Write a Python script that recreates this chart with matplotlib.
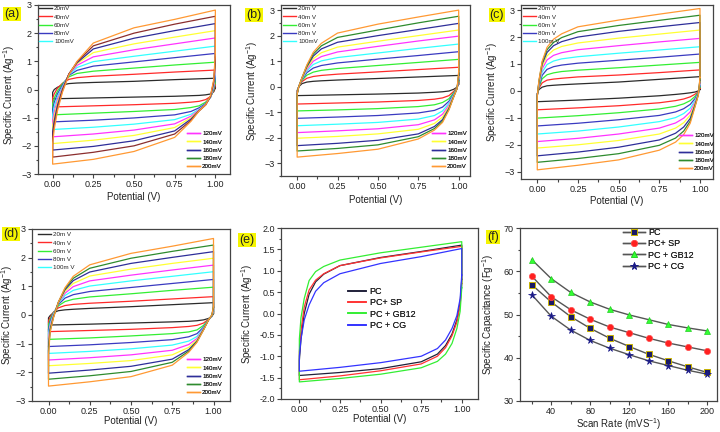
import matplotlib
matplotlib.use('Agg')
import matplotlib.pyplot as plt
from matplotlib.ticker import MultipleLocator
from matplotlib.lines import Line2D

plt.rcParams['font.family'] = ['Liberation Sans', 'DejaVu Sans']
plt.rcParams['mathtext.default'] = 'regular'

x_up = [0.0, 0.01, 0.03, 0.06, 0.1, 0.15, 0.25, 0.5, 0.75, 1.0]
x_lo = [1.0, 0.99, 0.97, 0.94, 0.9, 0.85, 0.75, 0.5, 0.25, 0.0]

rate_labels_a_top = ['20mV', '40mV', '60mV', '80mV', '100mV']
rate_labels_b_top = ['20m V', '40m V', '60m V', '80m V', '100mV']
rate_labels_cd_top = ['20m V', '40m V', '60m V', '80m V', '100m V']
rate_labels_bottom = ['120mV', '140mV', '160mV', '180mV', '200mV']

# (a) anodic / cathodic branches, 20 ... 200 mV/s
up_a = [[-0.10, 0.00, 0.08, 0.16, 0.21, 0.23, 0.25, 0.29, 0.35, 0.40],
        [-0.30, -0.15, 0.05, 0.22, 0.36, 0.42, 0.47, 0.54, 0.62, 0.69],
        [-0.50, -0.30, -0.05, 0.20, 0.45, 0.57, 0.65, 0.76, 0.87, 0.97],
        [-0.70, -0.45, -0.15, 0.15, 0.50, 0.68, 0.83, 0.98, 1.13, 1.28],
        [-0.90, -0.60, -0.25, 0.10, 0.52, 0.78, 0.99, 1.18, 1.36, 1.54],
        [-1.10, -0.80, -0.35, 0.05, 0.54, 0.86, 1.16, 1.41, 1.62, 1.83],
        [-1.30, -0.95, -0.45, 0.02, 0.55, 0.92, 1.31, 1.62, 1.86, 2.09],
        [-1.50, -1.10, -0.55, 0.00, 0.55, 0.95, 1.44, 1.82, 2.09, 2.34],
        [-1.70, -1.25, -0.65, -0.05, 0.55, 0.98, 1.55, 2.00, 2.32, 2.60],
        [-1.90, -1.40, -0.75, -0.10, 0.52, 1.00, 1.65, 2.19, 2.49, 2.82]]
lo_a = [[0.05, -0.08, -0.16, -0.19, -0.21, -0.22, -0.24, -0.27, -0.30, -0.33],
        [0.15, -0.05, -0.25, -0.36, -0.42, -0.45, -0.49, -0.54, -0.58, -0.62],
        [0.25, 0.00, -0.28, -0.45, -0.58, -0.64, -0.71, -0.78, -0.84, -0.90],
        [0.40, 0.05, -0.28, -0.50, -0.65, -0.78, -0.90, -1.01, -1.09, -1.15],
        [0.55, 0.10, -0.28, -0.52, -0.70, -0.88, -1.07, -1.23, -1.34, -1.42],
        [0.70, 0.15, -0.27, -0.53, -0.72, -0.95, -1.22, -1.44, -1.58, -1.68],
        [0.85, 0.20, -0.26, -0.54, -0.74, -1.00, -1.35, -1.63, -1.80, -1.92],
        [1.00, 0.25, -0.25, -0.54, -0.75, -1.05, -1.47, -1.82, -2.02, -2.15],
        [1.15, 0.30, -0.24, -0.55, -0.76, -1.10, -1.58, -2.00, -2.23, -2.40],
        [1.30, 0.35, -0.22, -0.55, -0.76, -1.13, -1.70, -2.20, -2.48, -2.65]]

# (b)
up_b = [[-0.15, 0.00, 0.12, 0.18, 0.21, 0.23, 0.26, 0.32, 0.38, 0.44],
        [-0.20, 0.00, 0.20, 0.33, 0.40, 0.44, 0.49, 0.58, 0.67, 0.76],
        [-0.25, 0.00, 0.25, 0.45, 0.57, 0.64, 0.71, 0.83, 0.95, 1.07],
        [-0.25, 0.00, 0.28, 0.55, 0.73, 0.83, 0.93, 1.08, 1.22, 1.37],
        [-0.25, 0.00, 0.30, 0.62, 0.87, 1.01, 1.14, 1.32, 1.50, 1.67],
        [-0.25, 0.00, 0.32, 0.68, 1.00, 1.18, 1.36, 1.58, 1.79, 1.98],
        [-0.25, 0.00, 0.33, 0.73, 1.10, 1.33, 1.55, 1.78, 2.00, 2.22],
        [-0.28, 0.00, 0.34, 0.78, 1.20, 1.48, 1.74, 2.00, 2.24, 2.48],
        [-0.30, 0.00, 0.35, 0.82, 1.28, 1.60, 1.93, 2.22, 2.50, 2.76],
        [-0.30, 0.00, 0.35, 0.85, 1.35, 1.70, 2.10, 2.45, 2.73, 3.00]]
lo_b = [[0.10, -0.02, -0.10, -0.17, -0.20, -0.22, -0.25, -0.29, -0.32, -0.35],
        [0.15, -0.03, -0.18, -0.35, -0.44, -0.49, -0.54, -0.60, -0.64, -0.68],
        [0.20, -0.04, -0.23, -0.47, -0.62, -0.71, -0.78, -0.86, -0.91, -0.95],
        [0.25, -0.05, -0.27, -0.57, -0.80, -0.93, -1.03, -1.13, -1.19, -1.24],
        [0.30, -0.05, -0.30, -0.65, -0.95, -1.13, -1.27, -1.40, -1.47, -1.53],
        [0.35, -0.06, -0.33, -0.72, -1.08, -1.30, -1.49, -1.65, -1.73, -1.80],
        [0.40, -0.06, -0.35, -0.78, -1.19, -1.44, -1.67, -1.85, -1.95, -2.02],
        [0.45, -0.07, -0.37, -0.84, -1.29, -1.56, -1.85, -2.10, -2.22, -2.31],
        [0.50, -0.07, -0.38, -0.88, -1.35, -1.64, -1.96, -2.28, -2.42, -2.52],
        [0.60, -0.07, -0.39, -0.91, -1.40, -1.70, -2.05, -2.45, -2.62, -2.76]]

# (c)
up_c = [[-0.10, 0.05, 0.14, 0.19, 0.21, 0.23, 0.26, 0.33, 0.43, 0.53],
        [-0.12, 0.10, 0.30, 0.40, 0.44, 0.47, 0.52, 0.59, 0.68, 0.78],
        [-0.14, 0.15, 0.45, 0.60, 0.67, 0.72, 0.77, 0.86, 0.96, 1.06],
        [-0.15, 0.18, 0.58, 0.80, 0.90, 0.96, 1.03, 1.14, 1.25, 1.37],
        [-0.16, 0.22, 0.70, 0.98, 1.11, 1.19, 1.27, 1.40, 1.52, 1.64],
        [-0.17, 0.25, 0.82, 1.15, 1.32, 1.42, 1.53, 1.68, 1.82, 1.95],
        [-0.18, 0.28, 0.92, 1.30, 1.52, 1.65, 1.78, 1.96, 2.11, 2.26],
        [-0.19, 0.32, 1.00, 1.43, 1.68, 1.83, 2.00, 2.21, 2.38, 2.54],
        [-0.20, 0.35, 1.06, 1.53, 1.80, 1.98, 2.20, 2.43, 2.62, 2.81],
        [-0.20, 0.38, 1.10, 1.62, 1.92, 2.12, 2.38, 2.63, 2.85, 3.06]]
lo_c = [[0.05, 0.00, -0.04, -0.07, -0.10, -0.13, -0.18, -0.27, -0.34, -0.40],
        [0.10, -0.03, -0.12, -0.22, -0.30, -0.36, -0.44, -0.55, -0.63, -0.70],
        [0.15, -0.05, -0.20, -0.36, -0.48, -0.57, -0.67, -0.81, -0.92, -1.01],
        [0.20, -0.07, -0.28, -0.50, -0.66, -0.78, -0.91, -1.07, -1.20, -1.30],
        [0.25, -0.08, -0.35, -0.64, -0.84, -0.99, -1.14, -1.34, -1.49, -1.60],
        [0.30, -0.10, -0.41, -0.78, -1.01, -1.19, -1.38, -1.60, -1.76, -1.88],
        [0.35, -0.11, -0.46, -0.90, -1.18, -1.38, -1.60, -1.84, -2.00, -2.12],
        [0.40, -0.12, -0.51, -1.02, -1.34, -1.57, -1.82, -2.09, -2.27, -2.41],
        [0.45, -0.14, -0.55, -1.12, -1.49, -1.75, -2.02, -2.33, -2.51, -2.65],
        [0.50, -0.15, -0.58, -1.20, -1.62, -1.90, -2.20, -2.56, -2.76, -2.93]]

# (d)
up_d = [[-0.10, -0.02, 0.08, 0.15, 0.18, 0.20, 0.23, 0.29, 0.36, 0.43],
        [-0.20, -0.08, 0.10, 0.25, 0.33, 0.37, 0.41, 0.48, 0.56, 0.64],
        [-0.35, -0.15, 0.08, 0.32, 0.47, 0.55, 0.63, 0.74, 0.86, 0.97],
        [-0.50, -0.22, 0.05, 0.37, 0.59, 0.71, 0.82, 0.96, 1.10, 1.24],
        [-0.65, -0.30, 0.03, 0.40, 0.68, 0.86, 1.01, 1.19, 1.35, 1.51],
        [-0.80, -0.37, 0.00, 0.42, 0.76, 0.99, 1.19, 1.39, 1.57, 1.74],
        [-0.95, -0.44, -0.03, 0.43, 0.83, 1.10, 1.36, 1.60, 1.80, 1.98],
        [-1.10, -0.50, -0.06, 0.44, 0.88, 1.20, 1.50, 1.80, 2.01, 2.21],
        [-1.25, -0.55, -0.08, 0.45, 0.92, 1.28, 1.63, 1.98, 2.22, 2.44],
        [-1.40, -0.60, -0.10, 0.45, 0.95, 1.35, 1.75, 2.15, 2.40, 2.67]]
lo_d = [[0.05, -0.05, -0.12, -0.17, -0.20, -0.22, -0.24, -0.28, -0.32, -0.35],
        [0.08, -0.05, -0.15, -0.28, -0.36, -0.40, -0.44, -0.50, -0.54, -0.58],
        [0.10, -0.05, -0.16, -0.36, -0.52, -0.59, -0.65, -0.73, -0.80, -0.85],
        [0.13, -0.04, -0.17, -0.42, -0.65, -0.76, -0.86, -0.96, -1.04, -1.10],
        [0.16, -0.04, -0.17, -0.45, -0.75, -0.91, -1.05, -1.18, -1.27, -1.34],
        [0.19, -0.03, -0.17, -0.47, -0.82, -1.03, -1.23, -1.39, -1.49, -1.57],
        [0.22, -0.02, -0.17, -0.49, -0.87, -1.13, -1.39, -1.59, -1.69, -1.77],
        [0.25, -0.01, -0.17, -0.50, -0.91, -1.21, -1.54, -1.79, -1.92, -2.03],
        [0.28, 0.00, -0.17, -0.51, -0.93, -1.26, -1.65, -1.97, -2.12, -2.24],
        [0.30, 0.00, -0.17, -0.52, -0.95, -1.30, -1.75, -2.15, -2.33, -2.48]]

# (e) comparison at one scan rate
samples_e = ['PC', 'PC+ SP', 'PC + GB12', 'PC + CG']
up_e = [[-1.10, -0.60, 0.00, 0.45, 0.74, 0.92, 1.12, 1.31, 1.45, 1.60],
        [-0.90, -0.40, 0.15, 0.55, 0.78, 0.93, 1.12, 1.30, 1.44, 1.57],
        [-0.60, -0.10, 0.35, 0.77, 0.98, 1.10, 1.25, 1.42, 1.55, 1.68],
        [-1.00, -0.60, -0.15, 0.20, 0.52, 0.72, 0.93, 1.17, 1.33, 1.52]]
lo_e = [[0.80, 0.25, -0.15, -0.48, -0.75, -0.95, -1.13, -1.29, -1.38, -1.45],
        [0.70, 0.20, -0.20, -0.52, -0.80, -1.00, -1.18, -1.34, -1.46, -1.55],
        [0.60, 0.05, -0.35, -0.70, -0.95, -1.12, -1.27, -1.42, -1.52, -1.60],
        [0.90, 0.35, -0.05, -0.35, -0.62, -0.82, -1.00, -1.15, -1.26, -1.35]]

# (f) specific capacitance vs scan rate
scan_rate = [20, 40, 60, 80, 100, 120, 140, 160, 180, 200]
cap_pc = [56.9, 52.9, 49.5, 46.8, 44.5, 42.6, 40.8, 39.3, 37.9, 36.6]
cap_sp = [58.9, 54.1, 51.1, 48.9, 47.1, 45.8, 44.5, 43.4, 42.5, 41.6]
cap_gb = [62.7, 58.3, 55.1, 52.9, 51.2, 49.9, 48.8, 47.7, 46.9, 46.2]
cap_cg = [54.6, 49.6, 46.4, 44.0, 42.2, 40.7, 39.3, 38.2, 37.1, 36.2]

rate_colors = ['#2b2b2b', '#ff2a2a', '#33ee33', '#3a3ac0', '#33ffff',
               '#ff33ff', '#ffff33', '#2e2e99', '#2e8b2e', '#ff9933']
rate_colors_a = rate_colors[:8] + ['#8b2e2e', '#ff9933']
sample_colors = ['#20203a', '#ff3333', '#33ee33', '#3333ff']

TXT = '#222222'
W, H = 720, 432
fig = plt.figure(figsize=(7.2, 4.32), dpi=100)


def px_axes(l, r, t, b):
    return fig.add_axes([l / W, 1 - b / H, (r - l) / W, (b - t) / H])


def style(ax, ylab, xlab, xlc, ylc):
    for sp in ax.spines.values():
        sp.set_color('#444444')
        sp.set_linewidth(0.9)
    ax.tick_params(which='both', direction='out', top=False, right=False,
                   colors='#444444', labelcolor=TXT, labelsize=6.5, width=0.8, pad=1.5)
    ax.tick_params(which='major', length=3)
    ax.tick_params(which='minor', length=1.8)
    ax.set_ylabel(ylab, fontsize=7, color=TXT)
    ax.set_xlabel(xlab, fontsize=7, color=TXT)
    ax.yaxis.set_label_coords(*ylc)
    ax.xaxis.set_label_coords(*xlc)


def panel_tag(text, cx, cy):
    fig.text(cx / W, 1 - cy / H, text, fontsize=9, color=TXT, ha='center', va='center',
             bbox=dict(boxstyle='square,pad=0.08', fc='#f5f500', ec='none'))


def px_legend(ax, handles, labels, x, y0, fs, hl, ls):
    leg = ax.legend(handles, labels, loc='upper left', bbox_to_anchor=(x / W, 1 - y0 / H),
                    bbox_transform=fig.transFigure, frameon=False, fontsize=fs,
                    handlelength=hl, handletextpad=0.4, labelspacing=ls,
                    borderpad=0, borderaxespad=0)
    for t in leg.get_texts():
        t.set_color(TXT)
    ax.add_artist(leg)


def cv_loop(ax, up, lo, color):
    xs = x_lo + x_up + [x_lo[0]]
    ys = lo + up + [lo[0]]
    ax.plot(xs, ys, color=color, lw=0.9)


def cv_panel(box, up, lo, colors, ylim, xlim, top_labels, leg_top, leg_bot, ylc, xlc):
    ax = px_axes(*box)
    for u, l, c in zip(up, lo, colors):
        cv_loop(ax, u, l, c)
    ax.set_xlim(*xlim)
    ax.set_ylim(*ylim)
    ax.set_xticks([0, 0.25, 0.5, 0.75, 1.0])
    ax.set_xticklabels(['0.00', '0.25', '0.50', '0.75', '1.00'])
    ax.set_yticks([-3, -2, -1, 0, 1, 2, 3])
    ax.xaxis.set_minor_locator(MultipleLocator(0.125))
    ax.yaxis.set_minor_locator(MultipleLocator(0.5))
    style(ax, 'Specific Current (Ag$^{-1}$)', 'Potential (V)', xlc, ylc)
    hs = [Line2D([], [], color=c, lw=1) for c in rate_colors]
    px_legend(ax, hs[:5], top_labels, leg_top[0], leg_top[1], 4.5, 2.0, 0.45)
    px_legend(ax, hs[5:], rate_labels_bottom, leg_bot[0], leg_bot[1], 4.5, 2.0, 0.45)
    return ax


cv_panel((38, 230, 5, 174), up_a, lo_a, rate_colors_a, (-3, 3), (-0.09, 1.09),
         rate_labels_a_top, (39, 6), (187, 131), (-0.11, 0.47), (0.5, -0.105))
cv_panel((281, 470, 5, 176), up_b, lo_b, rate_colors, (-3.5, 3.2), (-0.1, 1.07),
         rate_labels_b_top, (283, 6), (432, 131), (-0.11, 0.5), (0.5, -0.11))
cv_panel((521, 713, 5, 179), up_c, lo_c, rate_colors, (-3.27, 3.19), (-0.1, 1.08),
         rate_labels_cd_top, (523, 6), (679, 133), (-0.11, 0.5), (0.5, -0.1))
cv_panel((32, 230, 229, 401), up_d, lo_d, rate_colors, (-3, 3), (-0.1, 1.1),
         rate_labels_cd_top, (38, 232), (187, 357), (-0.085, 0.5), (0.5, -0.09))

# (e)
ax_e = px_axes(281, 478, 228, 399)
for u, l, c in zip(up_e, lo_e, sample_colors):
    cv_loop(ax_e, u, l, c)
ax_e.set_xlim(-0.113, 1.1)
ax_e.set_ylim(-2, 2)
ax_e.set_xticks([0, 0.25, 0.5, 0.75, 1.0])
ax_e.set_xticklabels(['0.00', '0.25', '0.50', '0.75', '1.00'])
ax_e.set_yticks([-2, -1.5, -1, -0.5, 0, 0.5, 1, 1.5, 2])
ax_e.set_yticklabels(['-2.0', '-1.5', '-1.0', '-0.5', '0.0', '0.5', '1.0', '1.5', '2.0'])
ax_e.xaxis.set_minor_locator(MultipleLocator(0.125))
ax_e.yaxis.set_minor_locator(MultipleLocator(0.25))
style(ax_e, 'Specific Current (Ag$^{-1}$)', 'Potential (V)', (0.5, -0.085), (-0.13, 0.5))
hs_e = [Line2D([], [], color=c, lw=1.2) for c in sample_colors]
px_legend(ax_e, hs_e, samples_e, 348, 287, 6.5, 2.0, 0.25)

# (f)
ax_f = px_axes(520, 717, 228, 401)
ax_f.plot(scan_rate, cap_pc, color='#555555', lw=1, marker='s', ms=4.5,
          mfc='#1a1a66', mec='#c8b400', mew=0.7, label=samples_e[0])
ax_f.plot(scan_rate, cap_sp, color='#555555', lw=1, marker='o', ms=4.5,
          mfc='#ff2020', mec='#ff5050', mew=0.5, label=samples_e[1])
ax_f.plot(scan_rate, cap_gb, color='#555555', lw=1, marker='^', ms=5,
          mfc='#33ff33', mec='#22cc22', mew=0.5, label=samples_e[2])
ax_f.plot(scan_rate, cap_cg, color='#555555', lw=1, marker='*', ms=5.5,
          mfc='#1a1a88', mec='#1a1a88', mew=0.5, label=samples_e[3])
ax_f.set_xlim(8, 210)
ax_f.set_ylim(30, 70)
ax_f.set_xticks([40, 80, 120, 160, 200])
ax_f.set_yticks([30, 40, 50, 60, 70])
ax_f.xaxis.set_minor_locator(MultipleLocator(20))
ax_f.yaxis.set_minor_locator(MultipleLocator(5))
style(ax_f, 'Specific Capacitance (Fg$^{-1}$)', 'Scan Rate (mVS$^{-1}$)',
      (0.5, -0.085), (-0.12, 0.5))
hf, lf = ax_f.get_legend_handles_labels()
px_legend(ax_f, hf, lf, 623, 228, 6.5, 2.4, 0.25)

panel_tag('(a)', 12, 14)
panel_tag('(b)', 254, 15)
panel_tag('(c)', 497, 15)
panel_tag('(d)', 11, 234)
panel_tag('(e)', 247, 240)
panel_tag('(f)', 493, 237)

fig.savefig('out.png', dpi=100)
